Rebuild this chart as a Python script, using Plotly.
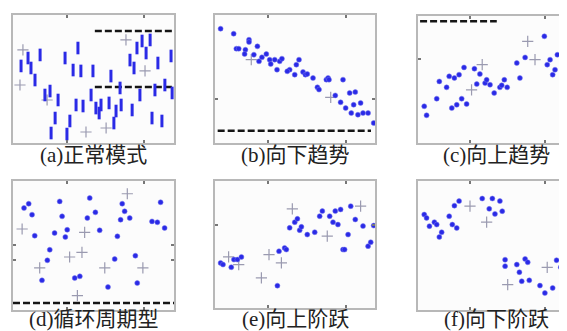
import plotly.graph_objects as go

# ---------------- data (sample index 0-60, value 0-100) ----------------
a_x = [3.0, 5.6, 6.7, 8.2, 10.1, 11.9, 13.8, 16.8, 15.7, 14.2, 19.4, 24.2, 22.4, 25.3, 29.8, 29.1,
       23.5, 26.1, 21.2, 20.1, 30.9, 32.1, 32.8, 35.8, 36.5, 37.6, 38.4, 40.3, 39.9, 44.4, 47.3,
       43.6, 45.1, 46.2, 48.1, 51.1, 49.6, 54.0, 52.9, 51.8, 55.5, 56.6, 58.9, 59.3]
a_y = [60.2, 66.4, 58.6, 49.2, 68.8, 37.5, 40.6, 33.6, 19.5, 7.8, 66.4, 74.2, 57.0, 56.3, 56.3, 37.5,
       29.7, 28.9, 17.2, 7.0, 27.3, 23.4, 29.7, 31.3, 52.3, 15.6, 25.0, 29.7, 43.0, 25.8, 37.5,
       64.8, 58.6, 74.2, 79.7, 80.5, 70.3, 62.5, 41.4, 19.5, 17.2, 45.3, 68.0, 39.1]
a_gx = [3.7, 2.6, 12.7, 27.2, 34.7, 42.1, 49.2]
a_gy = [72.7, 45.3, 33.6, 8.6, 11.7, 80.5, 56.3]
a_lim_x = [30.5, 60]
a_upper = [87.5, 87.5]
a_lower = [43.8, 43.8]

b_x = [2.1, 7.0, 8.0, 8.9, 12.75, 12.75, 11.4, 11.1, 14.6, 15.9, 16.5, 17.6, 19.25, 20.5, 20.9,
       22.4, 23.25, 24.25, 25.1, 28.0, 27.1, 29.9, 30.5, 31.5, 33.0, 33.9, 34.6, 36.75, 38.4,
       39.0, 41.75, 42.4, 42.75, 45.1, 47.1, 48.0, 49.0, 50.5, 51.1, 52.0, 52.6, 53.6, 54.6,
       55.5, 57.4, 59.5]
b_y = [89.3, 85.4, 73.7, 73.7, 80.7, 78.9, 72.9, 69.5, 69.0, 75.5, 63.8, 66.9, 69.5, 65.1, 61.7,
       65.1, 57.3, 63.8, 65.9, 57.3, 56.0, 53.4, 61.2, 65.1, 55.5, 53.4, 53.9, 50.8, 43.5,
       41.7, 49.5, 50.8, 49.5, 37.2, 31.8, 49.5, 27.3, 39.1, 23.4, 29.9, 39.8, 22.1, 31.3,
       23.4, 23.4, 15.6]
b_gx = [13.6, 43.4]
b_gy = [65.1, 35.7]
b_lim_x = [1, 58.5]
b_lim = [9.6, 9.6]

c_x = [2.4, 3.3, 7.2, 8.2, 11.0, 12.0, 13.0, 14.0, 14.9, 15.8, 16.8, 17.7, 18.7, 21.7, 22.6,
       23.8, 25.8, 26.4, 27.7, 29.3, 31.5, 32.2, 33.2, 34.3, 38.0, 39.2, 41.2, 48.6, 49.7,
       50.8, 51.8, 52.7, 53.6, 55.5, 56.5, 57.6, 58.5]
c_y = [28.9, 21.8, 34.9, 48.5, 43.8, 52.5, 27.5, 51.2, 30.1, 53.8, 34.9, 59.5, 30.7, 58.5, 46.4,
       54.3, 47.2, 49.8, 45.9, 39.4, 43.8, 45.4, 49.8, 43.8, 63.0, 51.2, 67.4, 84.0, 61.7,
       65.6, 53.8, 57.7, 69.5, 86.6, 90.5, 77.4, 81.3]
c_gx = [20.6, 24.7, 42.2, 45.0]
c_gy = [41.9, 61.7, 80.0, 65.6]
c_lim_x = [0.8, 30.3]
c_lim = [95.8, 95.8]

d_x = [4.1, 5.85, 7.1, 8.1, 10.8, 12.8, 13.7, 15.5, 17.4, 18.3, 19.5, 20.2, 23.0, 24.9, 27.7,
       28.6, 30.7, 32.3, 35.4, 37.9, 38.9, 40.1, 40.7, 41.6, 43.5, 45.6, 46.3, 51.8, 53.8,
       55.0, 56.5]
d_y = [79.1, 82.4, 73.9, 57.6, 23.0, 38.5, 46.7, 59.7, 84.2, 72.6, 56.6, 62.2, 24.8, 26.1, 71.3,
       86.8, 75.7, 61.8, 17.8, 39.5, 57.1, 70.0, 82.4, 76.5, 71.3, 42.1, 20.9, 68.7, 68.0,
       83.5, 63.6]
d_gx = [3.4, 9.95, 21.1, 24.0, 25.7, 26.7, 34.2, 42.6, 48.4]
d_gy = [62.8, 32.6, 41.1, 11.1, 44.7, 60.2, 32.6, 90.1, 32.6]
d_lim_x = [0, 60]
d_lim = [5.4, 5.4]

e_x = [2.1, 3.0, 6.1, 7.1, 8.4, 9.9, 23.4, 24.0, 26.1, 26.75, 28.0, 29.9, 30.9, 31.75, 32.4,
       34.6, 37.4, 39.25, 40.25, 43.0, 44.25, 45.1, 46.1, 47.1, 48.0, 48.6, 49.9, 50.9, 52.6,
       55.5, 57.4, 58.4, 59.5]
e_y = [35.5, 34.2, 32.1, 38.1, 38.1, 40.2, 17.6, 44.7, 47.3, 46.0, 63.1, 67.6, 70.2, 61.3, 63.9,
       57.8, 59.7, 72.3, 76.3, 72.3, 67.6, 76.3, 65.7, 77.6, 46.0, 46.0, 57.8, 80.2, 69.7,
       64.5, 48.7, 51.8, 64.9]
e_gx = [5.1, 8.9, 17.4, 20.25, 24.9, 29.0, 42.1, 54.6]
e_gy = [40.2, 34.2, 23.7, 42.1, 35.5, 78.1, 56.6, 80.2]

f_x = [2.4, 3.3, 4.4, 6.3, 7.2, 8.2, 9.1, 12.0, 13.2, 14.0, 14.9, 15.8, 24.7, 27.4, 28.6, 29.6,
       31.5, 32.4, 33.5, 33.5, 38.0, 39.0, 39.9, 41.2, 42.2, 42.8, 46.9, 48.8, 51.8, 53.3,
       54.9, 56.5, 57.6, 58.5]
f_y = [74.0, 71.4, 65.0, 68.1, 66.2, 56.6, 60.3, 72.7, 66.2, 80.9, 63.6, 84.4, 86.4, 78.4, 86.4,
       74.5, 84.4, 76.6, 39.0, 34.0, 35.2, 29.3, 22.3, 39.6, 37.0, 23.0, 18.9, 13.2, 17.1,
       38.6, 33.1, 24.8, 33.9, 33.1]
f_gx = [20.0, 26.4, 34.5, 49.7]
f_gy = [80.5, 68.1, 19.6, 33.1]

captions = ["(a)正常模式", "(b)向下趋势", "(c)向上趋势",
            "(d)循环周期型", "(e)向上阶跃", "(f)向下阶跃"]

# ---------------- layout geometry (pixels) ----------------
W, H = 567, 331
boxes = [(5, 166, 7, 135), (207, 367, 7, 135), (410, 566, 8, 135),
         (5, 166, 173, 302), (207, 367, 173, 300), (410, 566, 173, 302)]
cap_y = [147, 147, 147, 311, 311, 311]
ytick_sets = [[], [34.6], [66.3], [39.0, 50.6], [65.7], []]

BLUE = "#2a2ae6"
GRAY = "#9a9ab0"

fig = go.Figure()

panels = [
    (a_x, a_y, a_gx, a_gy, [(a_lim_x, a_upper), (a_lim_x, a_lower)], True),
    (b_x, b_y, b_gx, b_gy, [(b_lim_x, b_lim)], False),
    (c_x, c_y, c_gx, c_gy, [(c_lim_x, c_lim)], False),
    (d_x, d_y, d_gx, d_gy, [(d_lim_x, d_lim)], False),
    (e_x, e_y, e_gx, e_gy, [], False),
    (f_x, f_y, f_gx, f_gy, [], False),
]

for i, (px, py, gx, gy, lims, bars) in enumerate(panels):
    n = i + 1
    xa = "x" if n == 1 else f"x{n}"
    ya = "y" if n == 1 else f"y{n}"
    for lx, ly in lims:
        fig.add_trace(go.Scatter(x=lx, y=ly, mode="lines", xaxis=xa, yaxis=ya,
                                 line=dict(color="#151515", width=2.5, dash="7px,3px"),
                                 showlegend=False, hoverinfo="skip"))
    fig.add_trace(go.Scatter(x=gx, y=gy, mode="markers", xaxis=xa, yaxis=ya,
                             marker=dict(symbol="cross-thin-open", size=8, color=GRAY,
                                         line=dict(color=GRAY, width=1.2)),
                             showlegend=False))
    if bars:
        fig.add_trace(go.Scatter(x=px, y=py, mode="markers", xaxis=xa, yaxis=ya,
                                 marker=dict(symbol="line-ns-open", size=9, color=BLUE,
                                             line=dict(color=BLUE, width=3)),
                                 showlegend=False))
    else:
        fig.add_trace(go.Scatter(x=px, y=py, mode="markers", xaxis=xa, yaxis=ya,
                                 marker=dict(symbol="circle", size=5, color=BLUE,
                                             line=dict(color="rgba(120,120,240,0.5)", width=1)),
                                 showlegend=False))
    x0, x1, y0, y1 = boxes[i]
    axcommon = dict(showgrid=False, zeroline=False, showline=True, mirror="ticks",
                    linecolor="#b8b8b8", linewidth=2, ticks="inside", ticklen=3,
                    tickwidth=2, tickcolor="#777", showticklabels=False)
    fig.update_layout(**{
        ("xaxis" if n == 1 else f"xaxis{n}"): dict(
            domain=[x0 / W, x1 / W], range=[0, 60], anchor=ya,
            tickvals=[20, 49], **axcommon),
        ("yaxis" if n == 1 else f"yaxis{n}"): dict(
            domain=[1 - y1 / H, 1 - y0 / H], range=[0, 100], anchor=xa,
            tickvals=ytick_sets[i], **axcommon),
    })
    fig.add_annotation(text=captions[i], xref="paper", yref="paper",
                       x=(x0 + x1) / 2 / W, y=1 - cap_y[i] / H,
                       xanchor="center", yanchor="middle", showarrow=False,
                       font=dict(family="Liberation Serif, Noto Sans CJK SC", size=21,
                                 color="#222"))

fig.update_layout(width=W, height=H, margin=dict(l=0, r=0, t=0, b=0),
                  paper_bgcolor="white", plot_bgcolor="#fcfcfc")

fig.write_html("out.html")
